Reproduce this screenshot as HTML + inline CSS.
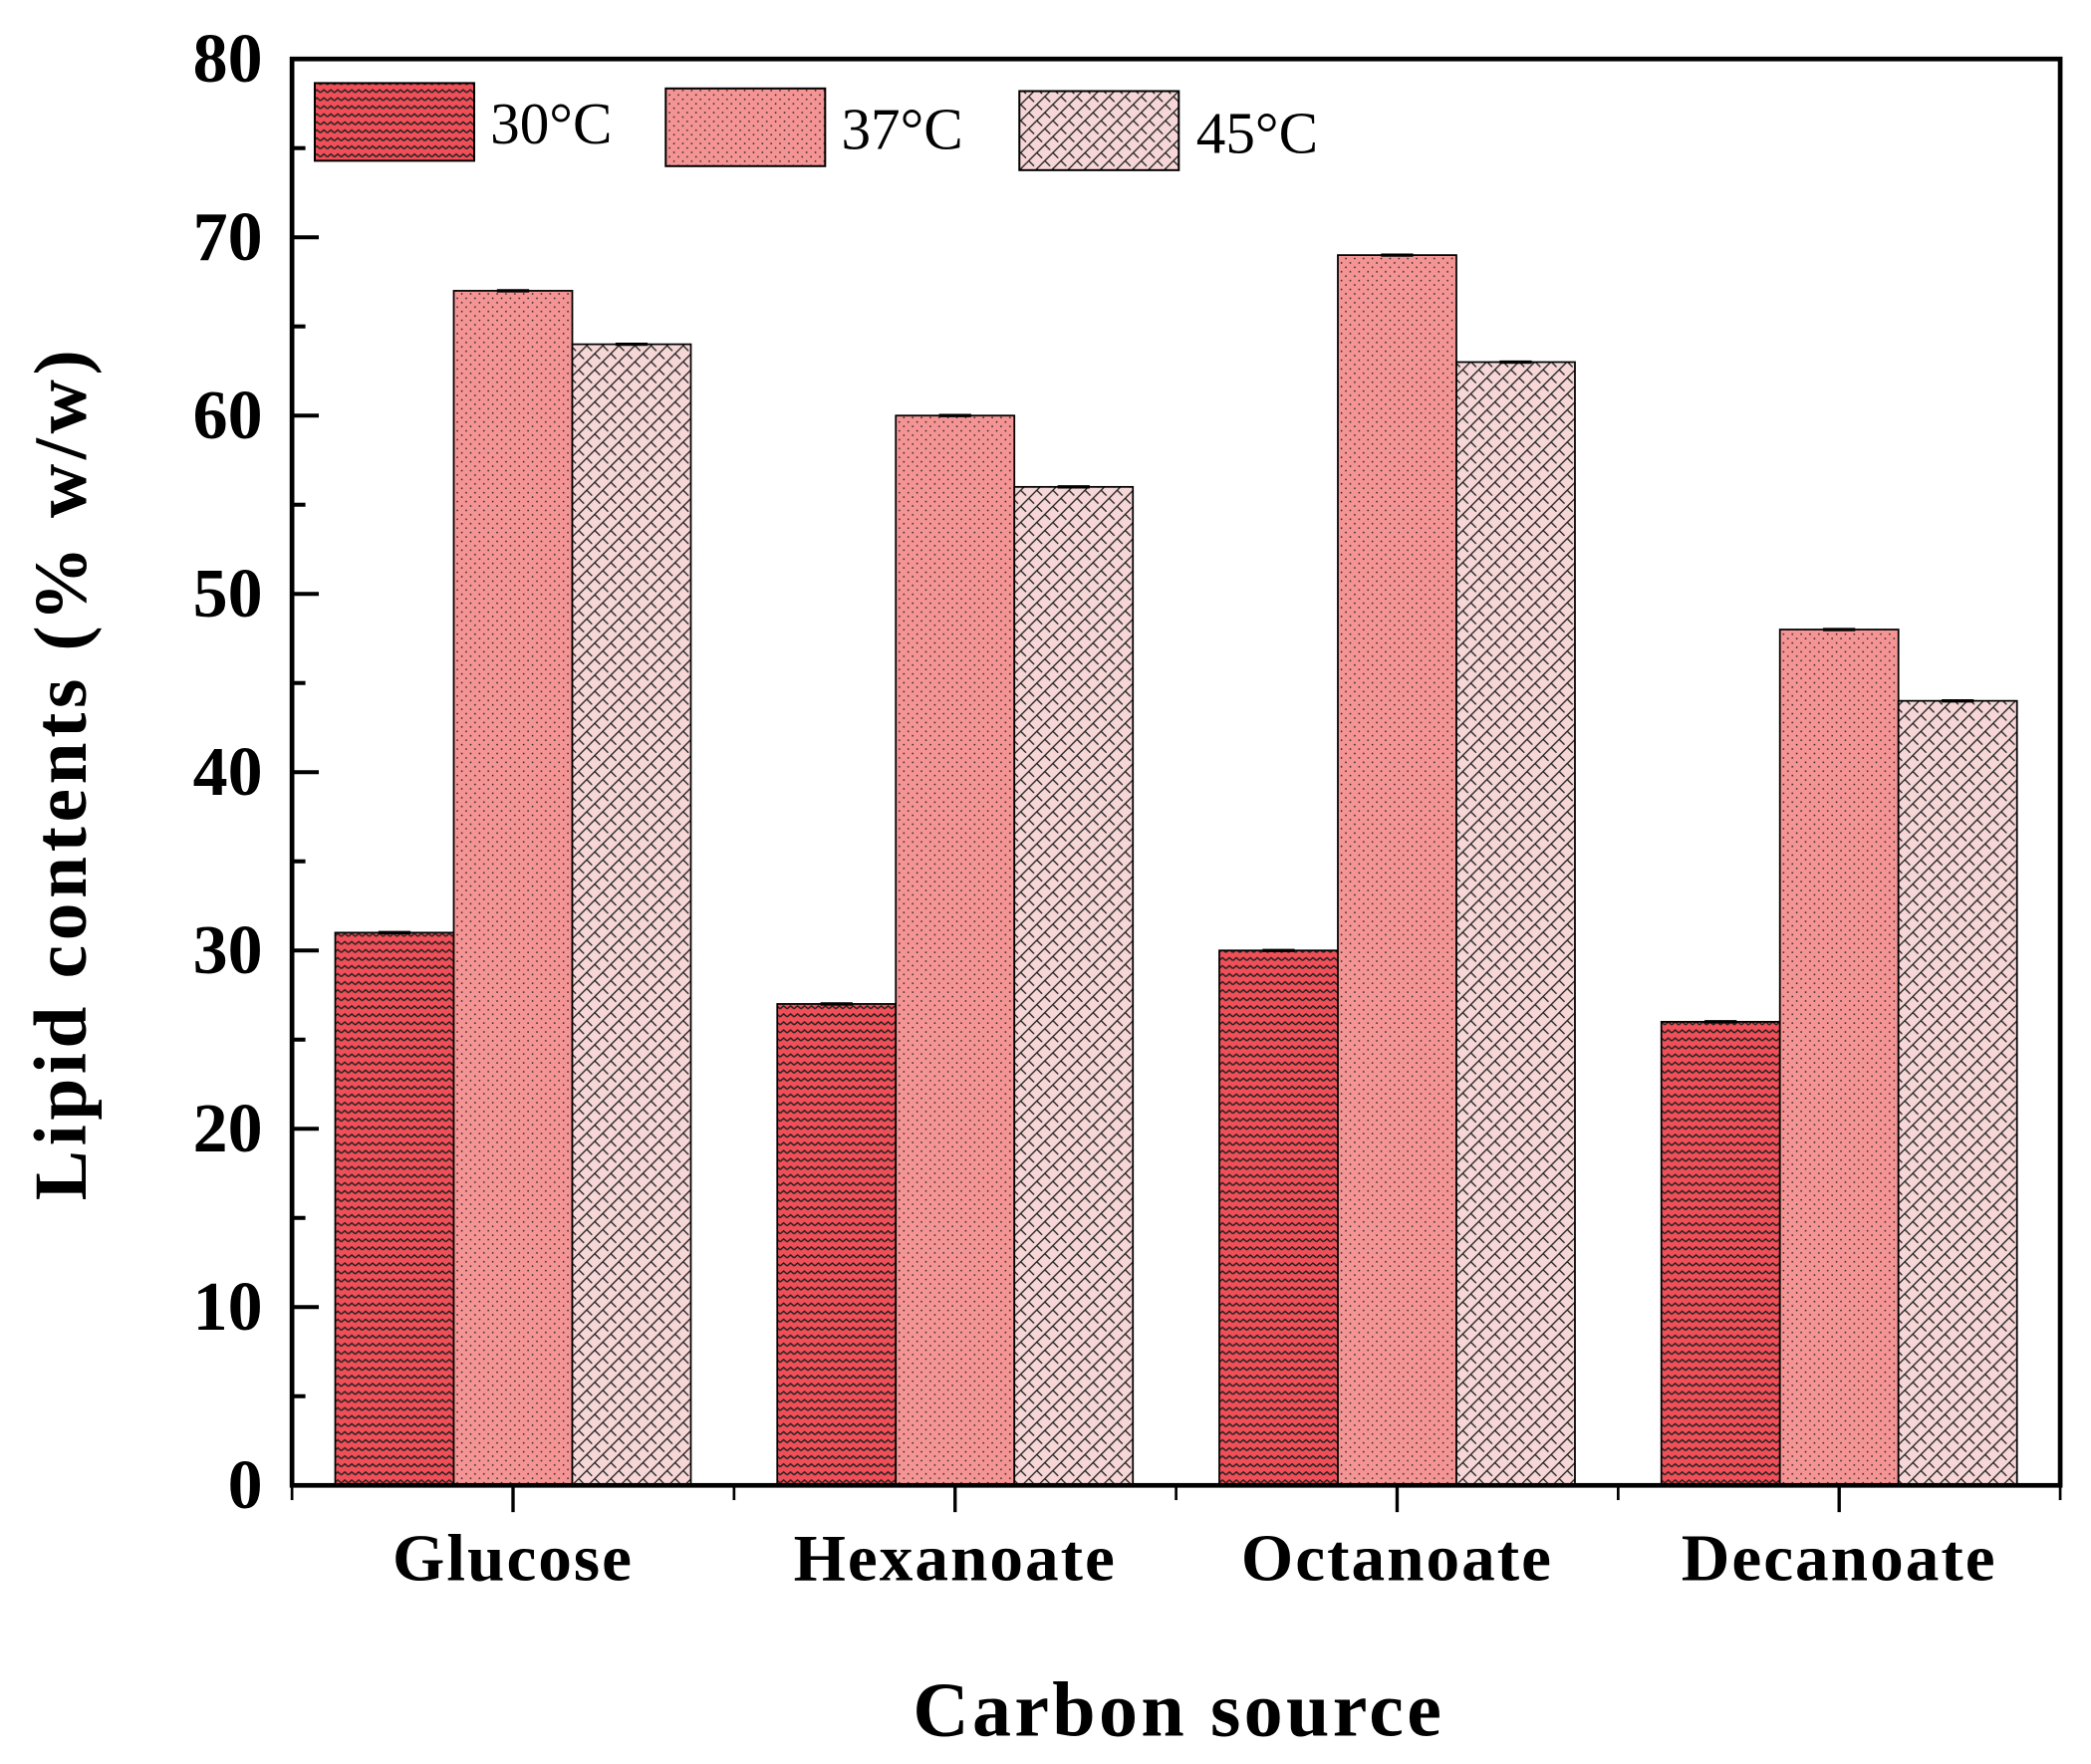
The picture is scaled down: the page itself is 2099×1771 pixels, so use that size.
<!DOCTYPE html>
<html><head><meta charset="utf-8"><style>
html,body{margin:0;padding:0;background:#fff;}
svg{display:block;}
text{font-family:"Liberation Serif",serif;}
</style></head><body>
<svg id="chart" width="2099" height="1771" viewBox="0 0 1561 1317" xmlns="http://www.w3.org/2000/svg">
<defs>
<pattern id="pz" patternUnits="userSpaceOnUse" width="5.2" height="6">
<rect width="5.2" height="6" fill="#f04f58"/>
<polyline points="0,3.2 2.6,1 5.2,3.2" fill="none" stroke="#222" stroke-width="1.1"/>
</pattern>
<pattern id="pd" patternUnits="userSpaceOnUse" width="6.6" height="6.6">
<rect width="6.6" height="6.6" fill="#f59494"/>
<rect x="1" y="1" width="1.1" height="1.1" fill="#222"/>
<rect x="4.3" y="4.3" width="1.1" height="1.1" fill="#222"/>
</pattern>
<pattern id="pl" patternUnits="userSpaceOnUse" width="12" height="12">
<rect width="12" height="12" fill="#f6d6d6"/>
<path d="M0,12 L12,0 M-3,3 L3,-3 M9,15 L15,9" stroke="#222" stroke-width="1" fill="none"/>
<path d="M0,0 L4,4 M6,6 L10,10" stroke="#222" stroke-width="1" fill="none"/>
</pattern>
</defs>
<g id="bars"></g>
<g id="axes"></g>
<g id="legend">
<rect x="235" y="62" width="119" height="58" fill="url(#pz)" stroke="#000" stroke-width="1.5"/>
<text x="366" y="107" font-size="44">30°C</text>
<rect x="497" y="66" width="119" height="58" fill="url(#pd)" stroke="#000" stroke-width="1.5"/>
<text x="628" y="111" font-size="44">37°C</text>
<rect x="761" y="68" width="119" height="59" fill="url(#pl)" stroke="#000" stroke-width="1.5"/>
<text x="893" y="114" font-size="44">45°C</text>
</g>
<text transform="translate(64,577) rotate(-90)" text-anchor="middle" font-size="56" font-weight="bold" letter-spacing="3.5">Lipid contents (% w/w)</text>
<text x="880" y="1296" text-anchor="middle" font-size="58" font-weight="bold" letter-spacing="2.5">Carbon source</text>
</svg>
<script>
const categories = ["Glucose","Hexanoate","Octanoate","Decanoate"];
const series30 = [31,27,30,26];
const series37 = [67,60,69,48];
const series45 = [64,56,63,44];
const yTicks = [0,10,20,30,40,50,60,70,80];
const NS = "http://www.w3.org/2000/svg";
const X0=218, X1=1538, Y0=1109, Y1=44, YMAX=80;
function yScale(v){return Y0-(v/YMAX)*(Y0-Y1);}
function xCenter(i){return X0+(X1-X0)/categories.length*(i+0.5);}
const BW=88.5;
const bars=document.getElementById('bars');
const axes=document.getElementById('axes');
function mk(tag,attrs,parent){const e=document.createElementNS(NS,tag);for(const k in attrs)e.setAttribute(k,attrs[k]);parent.appendChild(e);return e;}
const seriesList=[[series30,'url(#pz)','30c'],[series37,'url(#pd)','37c'],[series45,'url(#pl)','45c']];
categories.forEach((c,i)=>{
  seriesList.forEach((s,j)=>{
    const v=s[0][i];
    const x=xCenter(i)+(j-1.5)*BW;
    const r=mk('rect',{x:x,y:yScale(v),width:BW,height:Y0-yScale(v),fill:s[1],stroke:'#000','stroke-width':1.3},bars);
    
    
    const eb=mk('line',{x1:x+BW/2-12,x2:x+BW/2+12,y1:yScale(v),y2:yScale(v),stroke:'#000','stroke-width':2.5},bars);
    
    
  });
  const t=mk('text',{x:xCenter(i),y:1180,'text-anchor':'middle','font-size':50,'font-weight':'bold','letter-spacing':1.5},axes);
  t.textContent=c;
  
  
  const tk=mk('line',{x1:xCenter(i),x2:xCenter(i),y1:Y0,y2:Y0+20,stroke:'#000','stroke-width':2.5},axes);
  
  
});
for(let i=0;i<=categories.length;i++){
  const x=X0+(X1-X0)/categories.length*i;
  const tk=mk('line',{x1:x,x2:x,y1:Y0,y2:Y0+11,stroke:'#000','stroke-width':2},axes);
  
  
}
yTicks.forEach((v,k)=>{
  const y=yScale(v);
  const tk=mk('line',{x1:X0,x2:X0+20,y1:y,y2:y,stroke:'#000','stroke-width':3},axes);
  
  
  if(k<yTicks.length-1){
    const ym=yScale(v+5);
    const mt=mk('line',{x1:X0,x2:X0+10,y1:ym,y2:ym,stroke:'#000','stroke-width':3},axes);
    
    
  }
  const t=mk('text',{x:196,y:y+17,'text-anchor':'end','font-size':52,'font-weight':'bold'},axes);
  t.textContent=v;
  
  
});
const fr=mk('rect',{x:X0,y:Y1,width:X1-X0,height:Y0-Y1,fill:'none',stroke:'#000','stroke-width':3.5},axes);


</script>
</body></html>
